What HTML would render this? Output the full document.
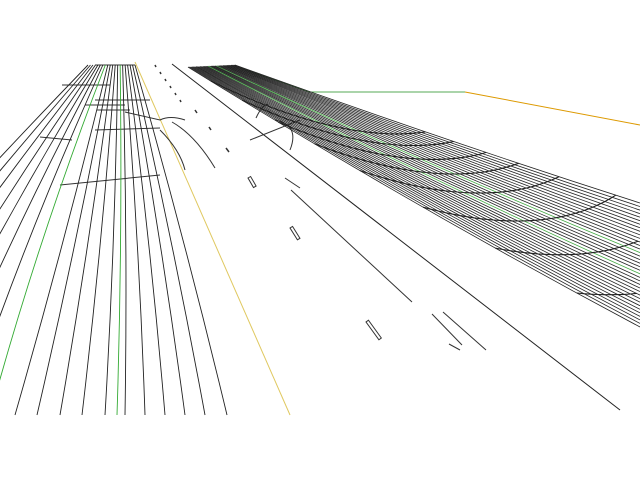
<!DOCTYPE html>
<html><head><meta charset="utf-8"><style>
html,body{margin:0;padding:0;background:#fff;width:640px;height:480px;overflow:hidden}
svg{display:block}
</style></head><body>
<svg id="s" width="640" height="480" viewBox="0 0 640 480" xmlns="http://www.w3.org/2000/svg">
<g fill="none" stroke-width="1">
<line x1="135" y1="62" x2="290" y2="415" stroke="#e0c860"/>
<line x1="172" y1="64" x2="620" y2="410" stroke="#222"/>
<polyline points="240,68 310,92 465,92" stroke="#5a5"/>
<line x1="465" y1="92" x2="640" y2="125" stroke="#d90"/>
<g stroke="#333">
<path d="M155 65 l1 2 M160 72 l1 2 M165 79 l1 2 M170 86 l1 2 M175 93 l1 2 M180 100 l1 2" stroke-width="1.5"/>
<path d="M195 110 l2 3 M209 127 l2 3 M226 148 l3 4" stroke-width="1.5"/>
<rect x="0" y="0" width="3" height="11" transform="translate(248,178) rotate(-30)"/>
<rect x="0" y="0" width="3" height="14" transform="translate(290,228) rotate(-32)"/>
<rect x="0" y="0" width="3" height="22" transform="translate(366,322) rotate(-36)"/>
<line x1="291" y1="190" x2="412" y2="302"/>
<line x1="285" y1="178" x2="300" y2="188"/>
<line x1="432" y1="314" x2="462" y2="345"/>
<line x1="443" y1="312" x2="486" y2="350"/>
<line x1="449" y1="344" x2="460" y2="350"/>
<path d="M172 122 Q195 135 215 168"/>
<path d="M160 130 Q180 150 185 170"/>
<path d="M250 140 L300 120"/>
<path d="M256 118 Q262 105 268 104 M275 120 Q300 125 290 150"/>
<path d="M95 65 L135 65 M62 85 L110 85 M95 100 L150 100 M85 105 L125 105 M97 110 L130 110 M95 130 L160 128 M60 185 L160 175"/>
<path d="M40 137 L72 140 M125 112 L160 120 Q170 115 185 120"/>
</g>
</g>
<g id="lf" fill="none" stroke="#222" stroke-width="0.9"></g>
<g id="rb" fill="none" stroke="#222" stroke-width="0.8"></g>
</svg>
<script>
var NS="http://www.w3.org/2000/svg";
function P(g,d,c,w){var p=document.createElementNS(NS,"path");p.setAttribute("d",d);if(c)p.setAttribute("stroke",c);if(w)p.setAttribute("stroke-width",w);g.appendChild(p);}
var lf=document.getElementById("lf");
var bx=[-230,-195,-160,-125,-95,-65,-35,-10,15,37,60,82,105,117,125,145,165,185,205,227];
for(var i=0;i<bx.length;i++){
 var tx=88+i*(47/(bx.length-1));
 var b=bx[i],by=415;
 var cx=(tx+b)/2+ (i<8?-10:4), cy=240;
 var col=(i==7||i==13)?"#3a3":null;
 P(lf,"M"+tx+" 65 Q"+cx+" "+cy+" "+b+" "+by,col);
}
var rb=document.getElementById("rb");
var N=36, L=[];
for(var i=0;i<N;i++){
 var t=i/(N-1);
 var sx=235-t*47, sy=65+t*2;
 var ey=203+t*124, ex=640;
 var cx=(sx+ex)/2, cy=(sy+ey)/2+4+t*6;
 L.push([sx,sy,cx,cy,ex,ey]);
 var col=(i==14||i==20)?"#4a4":null;
 P(rb,"M"+sx+" "+sy+" Q"+cx+" "+cy+" "+ex+" "+ey,col);
}
function pt(l,s){var a=(1-s)*(1-s),b=2*s*(1-s),c=s*s;return [a*l[0]+b*l[2]+c*l[4],a*l[1]+b*l[3]+c*l[5]];}
var cs=[0.05,0.12,0.2,0.28,0.38,0.52,0.68,0.86];
for(var k=0;k<cs.length;k++){
 var d="";
 for(var i=N-1;i>=0;i--){
  var u=(N-1-i)/(N-1);
  var s=cs[k]+0.42*(u+0.3*u*(1-u));
  if(s>1)break;
  var p=pt(L[i],s);
  d+=(d?" L":"M")+p[0].toFixed(1)+" "+p[1].toFixed(1);
 }
 P(rb,d,null,"1.1");
}
</script>
</body></html>
